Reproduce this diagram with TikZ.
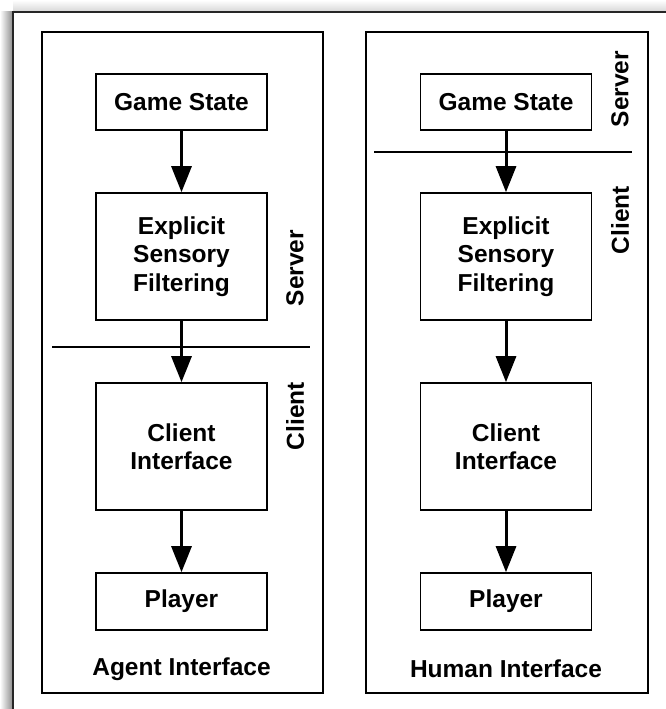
\documentclass[tikz,border=0pt]{standalone}
\usepackage{fontspec}
\setmainfont{Liberation Sans}
\usetikzlibrary{arrows.meta}

\begin{document}
\begin{tikzpicture}[x=1pt,y=-1pt,
    txt/.style={font=\fontsize{24.5}{28.5}\selectfont\bfseries,align=center},
    box/.style={txt,draw,line width=1.6pt,minimum width=171pt,inner sep=2pt},
    side/.style={txt,rotate=90},
    flow/.style={line width=3pt,-{Triangle[width=20pt,length=26pt]}}]
      \useasboundingbox (0,0) rectangle (666,709);
      \shade[left color=white,right color=gray!85] (0,12) rectangle (12,709);
      \shade[top color=white,bottom color=gray!30] (13,0) rectangle (666,11);
      \draw[line width=2.6pt,gray!30!black] (13,712) -- (13,12) -- (670,12);
      \draw[line width=1.8pt] (42,32) rectangle (323,693);
      \draw[line width=1.8pt] (366,32) rectangle (648,693);
      \node[box,minimum height=56pt] (ags) at (181.5,102) {Game State};
      \node[box,minimum height=127pt] (aesf) at (181.5,256.5) {Explicit\\Sensory\\Filtering};
      \node[box,minimum height=127pt] (aci) at (181.5,446.5) {Client\\Interface};
      \node[box,minimum height=57pt] (ap) at (181.5,601.5) {Player};
      \node[txt] (agent) at (181.5,669) {Agent Interface};
      \node[side] (aserver) at (295,268) {Server};
      \node[side] (aclient) at (295,416) {Client};
      \draw[line width=1.4pt] (52,347) -- (310,347);
      \node[box,minimum height=56pt] (hgs) at (506,102) {Game State};
      \node[box,minimum height=127pt] (hesf) at (506,256.5) {Explicit\\Sensory\\Filtering};
      \node[box,minimum height=127pt] (hci) at (506,446.5) {Client\\Interface};
      \node[box,minimum height=57pt] (hp) at (506,601.5) {Player};
      \node[txt] (human) at (506,669) {Human Interface};
      \node[side] (hserver) at (620,89) {Server};
      \node[side] (hclient) at (620,220) {Client};
      \draw[line width=1.4pt] (374,152) -- (632,152);
      \draw[flow] (ags) -- (aesf);
      \draw[flow] (aesf) -- (aci);
      \draw[flow] (aci) -- (ap);
      \draw[flow] (hgs) -- (hesf);
      \draw[flow] (hesf) -- (hci);
      \draw[flow] (hci) -- (hp);
    \end{tikzpicture}
\end{document}
